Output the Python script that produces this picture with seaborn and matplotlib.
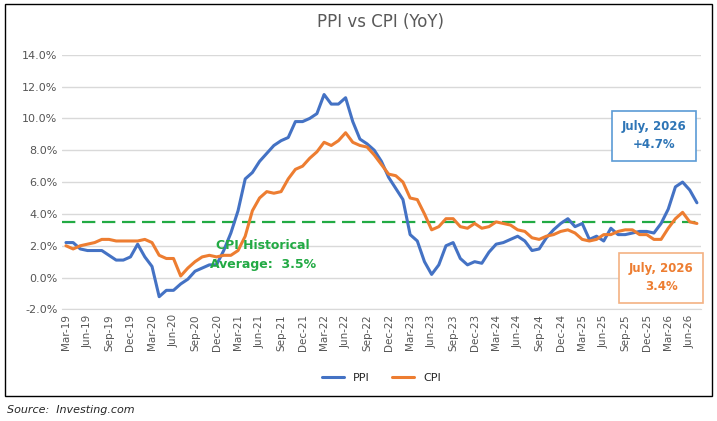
import matplotlib
matplotlib.use("Agg")
import matplotlib.pyplot as plt
from matplotlib.patches import Rectangle
import seaborn as sns
import pandas as pd
import numpy as np

months = pd.date_range("2019-03-01", "2026-07-01", freq="MS")
ppi = [2.2, 2.2, 1.8, 1.7, 1.7, 1.7, 1.4, 1.1, 1.1, 1.3,
       2.1, 1.3, 0.7, -1.2, -0.8, -0.8, -0.4, -0.1, 0.4, 0.6, 0.8, 0.8,
       1.7, 2.8, 4.2, 6.2, 6.6, 7.3, 7.8, 8.3, 8.6, 8.8, 9.8, 9.8,
       10.0, 10.3, 11.5, 10.9, 10.9, 11.3, 9.8, 8.7, 8.4, 8.0, 7.3, 6.3,
       5.6, 4.9, 2.7, 2.3, 1.0, 0.2, 0.8, 2.0, 2.2, 1.2, 0.8, 1.0,
       0.9, 1.6, 2.1, 2.2, 2.4, 2.6, 2.3, 1.7, 1.8, 2.5, 3.0, 3.4,
       3.7, 3.2, 3.4, 2.4, 2.6, 2.3, 3.1, 2.7, 2.7, 2.8, 2.9, 2.9,
       2.8, 3.4, 4.3, 5.7, 6.0, 5.5, 4.7]
cpi = [2.0, 1.8, 2.0, 2.1, 2.2, 2.4, 2.4, 2.3, 2.3, 2.3,
       2.3, 2.4, 2.2, 1.4, 1.2, 1.2, 0.1, 0.6, 1.0, 1.3, 1.4, 1.3,
       1.4, 1.4, 1.7, 2.6, 4.2, 5.0, 5.4, 5.3, 5.4, 6.2, 6.8, 7.0,
       7.5, 7.9, 8.5, 8.3, 8.6, 9.1, 8.5, 8.3, 8.2, 7.7, 7.1, 6.5,
       6.4, 6.0, 5.0, 4.9, 4.0, 3.0, 3.2, 3.7, 3.7, 3.2, 3.1, 3.4,
       3.1, 3.2, 3.5, 3.4, 3.3, 3.0, 2.9, 2.5, 2.4, 2.6, 2.7, 2.9,
       3.0, 2.8, 2.4, 2.3, 2.4, 2.7, 2.7, 2.9, 3.0, 3.0, 2.7, 2.7,
       2.4, 2.4, 3.1, 3.7, 4.1, 3.5, 3.4]
cpi_avg = 3.5

df = pd.DataFrame({"idx": np.arange(len(months)), "PPI": ppi, "CPI": cpi})
long = df.melt("idx", var_name="series", value_name="val")

sns.set_style("white")
plt.rcParams["font.family"] = ["DejaVu Sans"]
fig = plt.figure(figsize=(7.17, 4.21), dpi=100)
ax = fig.add_axes([0.087, 0.265, 0.89, 0.605])

sns.lineplot(data=long, x="idx", y="val", hue="series",
             palette={"PPI": "#4472C4", "CPI": "#ED7D31"}, linewidth=2.2, ax=ax)
ax.axhline(cpi_avg, color="#22AA44", ls=(0, (6, 3)), lw=1.6, zorder=1)

ax.set_ylim(-2, 14)
ax.set_yticks(np.arange(-2, 15, 2))
ax.set_yticklabels([f"{v:.1f}%" for v in np.arange(-2, 15, 2)], fontsize=8, color="#555555")
ax.set_xlim(-0.5, len(months) - 0.5)
ticks = np.arange(0, len(months), 3)
ax.set_xticks(ticks)
ax.set_xticklabels([months[i].strftime("%b-%y") for i in ticks], rotation=90, fontsize=7.5, color="#555555")
ax.grid(axis="y", color="#D9D9D9", lw=1)
for s in ax.spines.values():
    s.set_visible(False)
ax.spines["bottom"].set_visible(True)
ax.spines["bottom"].set_color("#D9D9D9")
ax.tick_params(length=0)
ax.set_xlabel("")
ax.set_ylabel("")

ax.legend(handles=ax.get_legend().legend_handles, labels=["PPI", "CPI"],
          loc="upper center", bbox_to_anchor=(0.5, -0.21), ncol=2, frameon=False, fontsize=8)
fig.text(0.53, 0.935, "PPI vs CPI (YoY)", ha="center", fontsize=12, color="#595959")

ax.text(27.5, 1.4, "CPI Historical\nAverage:  3.5%", ha="center", va="center",
        color="#22AA44", fontsize=9, fontweight="bold", linespacing=1.6)
ax.text(82, 8.9, "July, 2026\n+4.7%", ha="center", va="center", color="#2E75B6",
        fontsize=8.5, fontweight="bold", linespacing=1.5,
        bbox=dict(boxstyle="square,pad=0.8", fc="white", ec="#5B9BD5", lw=1.2))
ax.text(83, 0.0, "July, 2026\n3.4%", ha="center", va="center", color="#ED7D31",
        fontsize=8.5, fontweight="bold", linespacing=1.5,
        bbox=dict(boxstyle="square,pad=0.8", fc="white", ec="#F4B183", lw=1.2))

fig.patches.append(Rectangle((0.007, 0.06), 0.986, 0.93, transform=fig.transFigure,
                             fill=False, ec="black", lw=1))
fig.text(0.01, 0.02, "Source:  Investing.com", fontsize=8, style="italic")

fig.savefig("out.png", dpi=100)
